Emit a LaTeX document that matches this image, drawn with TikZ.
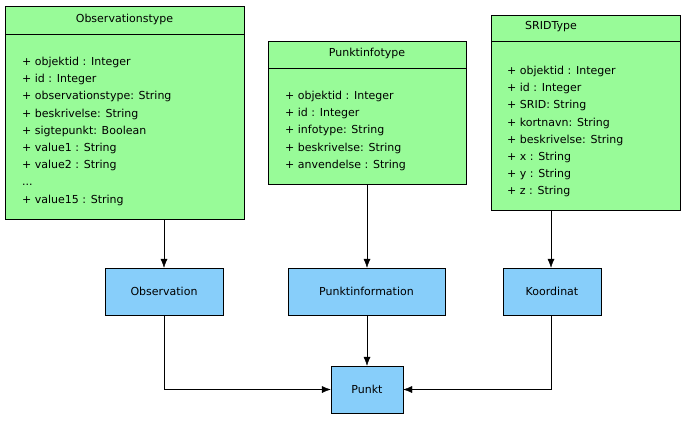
\documentclass[tikz,border=0pt]{standalone}
\usepackage{fontspec}
\setmainfont{DejaVu Sans}
\usetikzlibrary{arrows.meta}
\definecolor{classgreen}{HTML}{98FB98}
\definecolor{typeblue}{HTML}{87CEFA}
\tikzset{
  cls/.style={draw=black,fill=classgreen},
  ent/.style={draw=black,fill=typeblue,font=\fontsize{11}{13}\selectfont},
  attrs/.style={anchor=north west,align=left,inner sep=0pt,font=\fontsize{11}{17.2}\selectfont},
  hdr/.style={font=\fontsize{11}{13}\selectfont},
  link/.style={-{Latex[length=9pt,width=7pt]}}
}
\begin{document}
\begin{tikzpicture}[x=1pt,y=-1pt]
  \useasboundingbox (0,0) rectangle (687,420);
  % class boxes
  \draw[cls] (5,6) rectangle (244,219); \draw (5,34) -- (244,34);
  \node[hdr] (obstype) at (124.5,19) {Observationstype};
  \node[attrs] (obsattr) at (22,57) {+ objektid : Integer\\+ id : Integer\\+ observationstype: String\\+ beskrivelse: String\\+ sigtepunkt: Boolean\\+ value1 : String\\+ value2 : String\\...\\+ value15 : String};
  \coordinate (obsbot) at (164,219);
  \draw[cls] (268,41) rectangle (466,184); \draw (268,68) -- (466,68);
  \node[hdr] (pitype) at (367,53) {Punktinfotype};
  \node[attrs] (piattr) at (285,91) {+ objektid : Integer\\+ id : Integer\\+ infotype: String\\+ beskrivelse: String\\+ anvendelse : String};
  \coordinate (pibot) at (367,184);
  \draw[cls] (491,15) rectangle (680,210); \draw (491,41) -- (680,41);
  \node[hdr] (sridtype) at (551,27) {SRIDType};
  \node[attrs] (sridattr) at (507,66) {+ objektid : Integer\\+ id : Integer\\+ SRID: String\\+ kortnavn: String\\+ beskrivelse: String\\+ x : String\\+ y : String\\+ z : String};
  \coordinate (sridbot) at (551,210);
  % entities
  \node[ent,minimum width=118pt,minimum height=47pt] (obs) at (164,291.5) {Observation};
  \node[ent,minimum width=157pt,minimum height=47pt] (pinfo) at (366.5,291.5) {Punktinformation};
  \node[ent,minimum width=98pt,minimum height=47pt] (koord) at (552,291.5) {Koordinat};
  \node[ent,minimum width=72pt,minimum height=47pt] (punkt) at (367,389.5) {Punkt};
  % connectors
  \draw[link] (obsbot) -- (obs.north -| obsbot);
  \draw[link] (pibot) -- (pinfo.north -| pibot);
  \draw[link] (sridbot) -- (koord.north -| sridbot);
  \draw[link] (obs.south) |- (punkt.west);
  \draw[link] (pinfo.south -| punkt.north) -- (punkt.north);
  \draw[link] (koord.south -| sridbot) |- (punkt.east);
\end{tikzpicture}
\end{document}
